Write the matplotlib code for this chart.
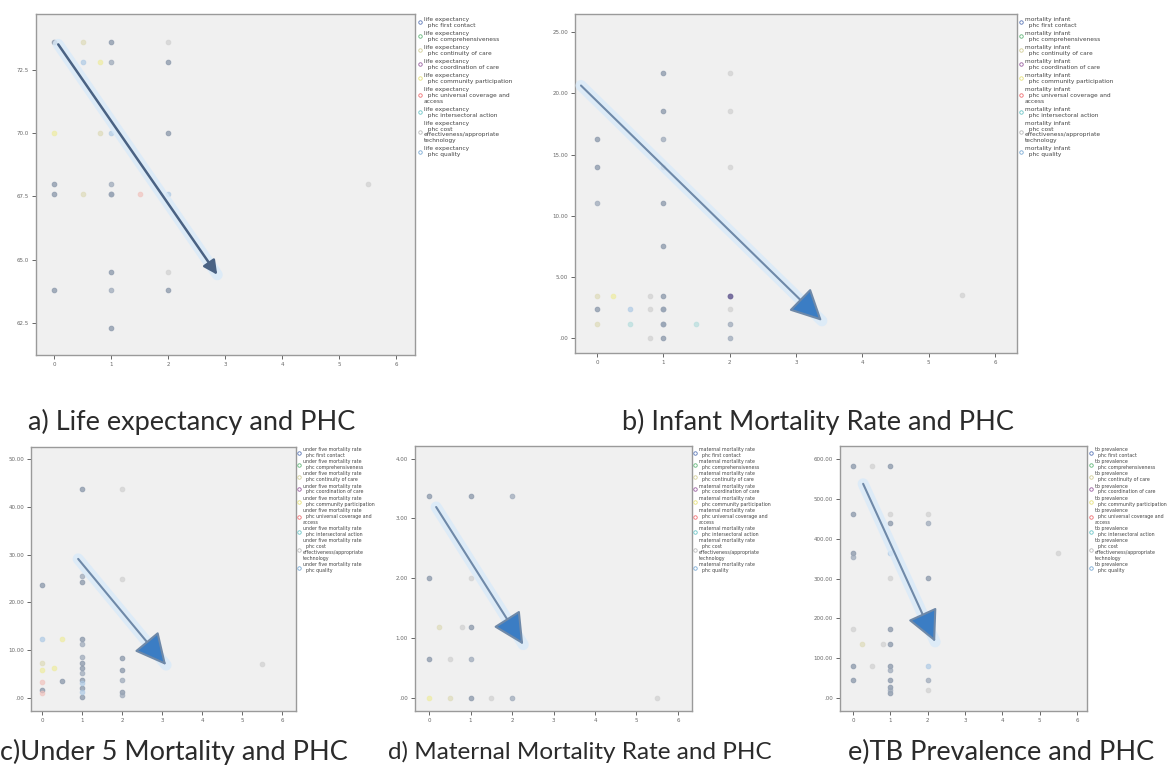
import matplotlib
matplotlib.use('Agg')
import matplotlib.pyplot as plt
from matplotlib.lines import Line2D

# ---------------- data ----------------
phc_dims = ['first contact', 'comprehensiveness', 'continuity of care',
            'coordination of care', 'community participation',
            'universal coverage and\naccess', 'intersectoral action',
            'cost\neffectiveness/appropriate\ntechnology', 'quality']

x_ticks = [0, 1, 2, 3, 4, 5, 6]

# a) life expectancy
le_x = [0, 0.5, 1, 2, 0.5, 0.8, 1, 2, 0, 0.8, 1, 2, 0, 1, 0, 0.5, 1, 1, 1.5, 2, 1, 2, 0, 1, 2, 1, 5.5]
le_y = [73.6, 73.6, 73.6, 73.6, 72.8, 72.8, 72.8, 72.8, 70.0, 70.0, 70.0, 70.0, 68.0, 68.0,
        67.6, 67.6, 67.6, 67.6, 67.6, 67.6, 64.5, 64.5, 63.8, 63.8, 63.8, 62.3, 68.0]
le_s = [0, 2, 0, 7, 1, 4, 8, 0, 4, 2, 1, 0, 0, 8, 0, 2, 0, 8, 5, 1, 0, 7, 0, 8, 0, 0, 7]
le_yticks = [62.5, 65.0, 67.5, 70.0, 72.5]
le_ylabels = ['62.5', '65.0', '67.5', '70.0', '72.5']

# b) infant mortality
im_x = [1, 2, 1, 2, 0, 1, 0, 1, 2, 0, 1, 1, 0, 0.25, 0.8, 1, 2, 2, 0, 0.5, 0.8, 1, 1, 2,
        0, 0.5, 1, 1, 1.5, 2, 0.8, 1, 2, 5.5]
im_y = [21.7, 21.7, 18.6, 18.6, 16.3, 16.3, 14.0, 14.0, 14.0, 11.0, 11.0, 7.5,
        3.4, 3.4, 3.4, 3.4, 3.4, 3.4, 2.4, 2.4, 2.4, 2.4, 2.4, 2.4,
        1.15, 1.15, 1.15, 1.15, 1.15, 1.15, 0.0, 0.0, 0.0, 3.5]
im_s = [0, 7, 0, 7, 0, 8, 0, 8, 7, 8, 0, 0, 2, 4, 7, 0, 3, 3, 0, 1, 7, 8, 0, 7,
        2, 6, 0, 8, 6, 8, 7, 0, 8, 7]
im_yticks = [0, 5, 10, 15, 20, 25]
im_ylabels = ['.00', '5.00', '10.00', '15.00', '20.00', '25.00']

# c) under five mortality
u5_x = [1, 2, 0, 1, 1, 2, 0, 0.5, 1, 1, 0, 0, 0, 0, 0, 0.3, 0.5,
        1, 1, 1, 1, 1, 1, 1, 1, 1, 2, 2, 2, 2, 2, 5.5]
u5_y = [43.7, 43.7, 23.6, 24.3, 25.5, 25.0, 12.3, 12.3, 12.3, 11.3, 7.3, 5.9, 3.3, 1.7, 1.0,
        6.2, 3.6, 8.6, 7.3, 6.3, 5.2, 3.8, 3.1, 2.1, 1.3, 0.2, 8.4, 5.9, 3.8, 1.3, 0.6, 7.1]
u5_s = [0, 7, 0, 0, 8, 7, 1, 4, 0, 8, 2, 4, 5, 0, 5, 4, 0,
        8, 0, 0, 8, 0, 1, 0, 1, 0, 0, 0, 8, 0, 8, 7]
u5_yticks = [0, 10, 20, 30, 40, 50]
u5_ylabels = ['.00', '10.00', '20.00', '30.00', '40.00', '50.00']

# d) maternal mortality
mm_x = [0, 1, 2, 0, 1, 0.25, 0.8, 1, 2, 0, 0.5, 1, 0, 0.5, 1, 1.5, 2, 5.5]
mm_y = [3.38, 3.38, 3.38, 2.0, 2.0, 1.19, 1.19, 1.19, 1.25, 0.65, 0.65, 0.65,
        0.0, 0.0, 0.0, 0.0, 0.0, 0.0]
mm_s = [0, 0, 8, 0, 7, 2, 7, 0, 7, 0, 7, 8, 4, 2, 0, 7, 8, 7]
mm_yticks = [0, 1, 2, 3, 4]
mm_ylabels = ['.00', '1.00', '2.00', '3.00', '4.00']

# e) TB prevalence
tb_x = [0, 0.5, 1, 0, 1, 2, 1, 2, 0, 0, 1, 5.5, 1, 2, 0, 1, 0.25, 0.8, 1,
        0, 0.5, 1, 1, 2, 0, 1, 2, 1, 1, 1, 2]
tb_y = [583, 583, 583, 462, 462, 462, 440, 440, 364, 354, 364, 363, 301, 301, 173, 173,
        136, 136, 136, 80, 80, 80, 70, 80, 45, 45, 45, 28, 20, 12, 20]
tb_s = [0, 7, 0, 0, 7, 7, 0, 8, 0, 8, 1, 7, 7, 0, 7, 0, 2, 7, 0,
        0, 7, 0, 8, 1, 0, 0, 8, 0, 8, 0, 7]
tb_yticks = [0, 100, 200, 300, 400, 500, 600]
tb_ylabels = ['.00', '100.00', '200.00', '300.00', '400.00', '500.00', '600.00']

# trend arrows (start, end) in data units
le_arrow = [(0.07, 73.5), (2.86, 64.4)]
im_arrow = [(-0.24, 20.65), (3.39, 1.4)]
u5_arrow = [(0.9, 29.1), (3.1, 6.9)]
mm_arrow = [(0.17, 3.19), (2.27, 0.89)]
tb_arrow = [(0.27, 538), (2.2, 141)]

titles = ['a) Life expectancy and PHC', 'b) Infant Mortality Rate and PHC',
          'c)Under 5 Mortality and PHC', 'd) Maternal Mortality Rate and PHC',
          'e)TB Prevalence and PHC']

# ---------------- drawing ----------------
W, H = 1171, 772
fig = plt.figure(figsize=(W / 100, H / 100), dpi=100)
fig.patch.set_facecolor('white')

palette = ['#8391a5', '#aecae5', '#dedbb9', '#6f6699', '#eeec a0'.replace(' ', ''),
           '#f1c3be', '#b6dede', '#d0d0d0', '#9aa6b7']
legend_marks = ['#5b78b8', '#63b87a', '#d3ce97', '#9a5ea0', '#e6e27a',
                '#ef6f72', '#6cc6c8', '#bbbbbb', '#7aaad5']


def rect(l, t, r, b):
    return [l / W, 1 - b / H, (r - l) / W, (b - t) / H]


def panel(box, xs, ys, ss, xlim, ylim, yticks, ylabels, prefix, arrow,
          big_head, leg_xy, leg_fs, leg_sp):
    ax = fig.add_axes(rect(*box))
    ax.set_facecolor('#f0f0f0')
    for sp in ax.spines.values():
        sp.set_color('#9a9a9a')
        sp.set_linewidth(1.0)
    for k in range(9):
        px = [x for x, s in zip(xs, ss) if s == k]
        py = [y for y, s in zip(ys, ss) if s == k]
        if px:
            ax.scatter(px, py, s=12, color=palette[k], alpha=0.7,
                       edgecolors=palette[k], linewidths=0.6, zorder=2)
    ax.set_xlim(*xlim)
    ax.set_ylim(*ylim)
    ax.set_xticks(x_ticks)
    ax.set_xticklabels([str(v) for v in x_ticks])
    ax.set_yticks(yticks)
    ax.set_yticklabels(ylabels)
    ax.tick_params(labelsize=4, colors='#666666', labelcolor='#666666',
                   length=3, width=0.7, pad=2)
    (x0, y0), (x1, y1) = arrow
    ax.annotate('', xy=(x1, y1), xytext=(x0, y0),
                arrowprops=dict(arrowstyle='-', color='#d9eaf9', lw=8,
                                alpha=0.8, shrinkA=0, shrinkB=0), zorder=3)
    if big_head:
        ax.annotate('', xy=(x1, y1), xytext=(x0, y0),
                    arrowprops=dict(arrowstyle='-|>,head_length=0.9,head_width=0.45',
                                    mutation_scale=22, ec='#6f89a8', fc='#3b7dc4',
                                    lw=1.5, shrinkA=0, shrinkB=0), zorder=4)
    else:
        ax.annotate('', xy=(x1, y1), xytext=(x0, y0),
                    arrowprops=dict(arrowstyle='-|>,head_length=0.6,head_width=0.3',
                                    mutation_scale=14, color='#4a6283',
                                    lw=1.8, shrinkA=0, shrinkB=0), zorder=4)
    handles = [Line2D([], [], marker='o', ls='', mfc='none', mec=legend_marks[k],
                      ms=2.5, mew=0.6) for k in range(9)]
    labels = [f'{prefix}\n  phc {d}' for d in phc_dims]
    fig.legend(handles, labels, loc='upper left',
               bbox_to_anchor=(leg_xy[0] / W, 1 - leg_xy[1] / H),
               frameon=False, fontsize=leg_fs, labelspacing=leg_sp,
               handlelength=0.6, handletextpad=0.4, borderpad=0,
               borderaxespad=0, labelcolor='#444444')
    return ax


panel((36, 14, 415, 355), le_x, le_y, le_s, (-0.32, 6.33), (61.23, 74.7),
      le_yticks, le_ylabels, 'life expectancy', le_arrow, False,
      (418, 17), 4.2, 0.55)
panel((575, 14, 1017, 353), im_x, im_y, im_s, (-0.33, 6.33), (-1.23, 26.5),
      im_yticks, im_ylabels, 'mortality infant', im_arrow, True,
      (1019, 17), 4.2, 0.55)
panel((31, 447, 296, 711), u5_x, u5_y, u5_s, (-0.28, 6.35), (-2.7, 52.5),
      u5_yticks, u5_ylabels, 'under five mortality rate', u5_arrow, True,
      (298, 447), 3.4, 0.3)
panel((415, 446, 692, 711), mm_x, mm_y, mm_s, (-0.34, 6.34), (-0.22, 4.21),
      mm_yticks, mm_ylabels, 'maternal mortality rate', mm_arrow, True,
      (694, 447), 3.4, 0.3)
panel((840, 446, 1087, 711), tb_x, tb_y, tb_s, (-0.35, 6.27), (-32.7, 633),
      tb_yticks, tb_ylabels, 'tb prevalence', tb_arrow, True,
      (1090, 447), 3.4, 0.3)

title_pos = [(28, 422), (622, 422), (0, 752), (388, 752), (848, 752)]
title_fs = [19.5, 19.5, 19.5, 17.5, 19.5]
for t, (tx, ty), fs in zip(titles, title_pos, title_fs):
    fig.text(tx / W, 1 - ty / H, t, fontsize=fs, family=['Lato', 'DejaVu Sans'],
             ha='left', va='center', color='#2b2b2b')

fig.savefig('out.png', dpi=100, facecolor='white')
